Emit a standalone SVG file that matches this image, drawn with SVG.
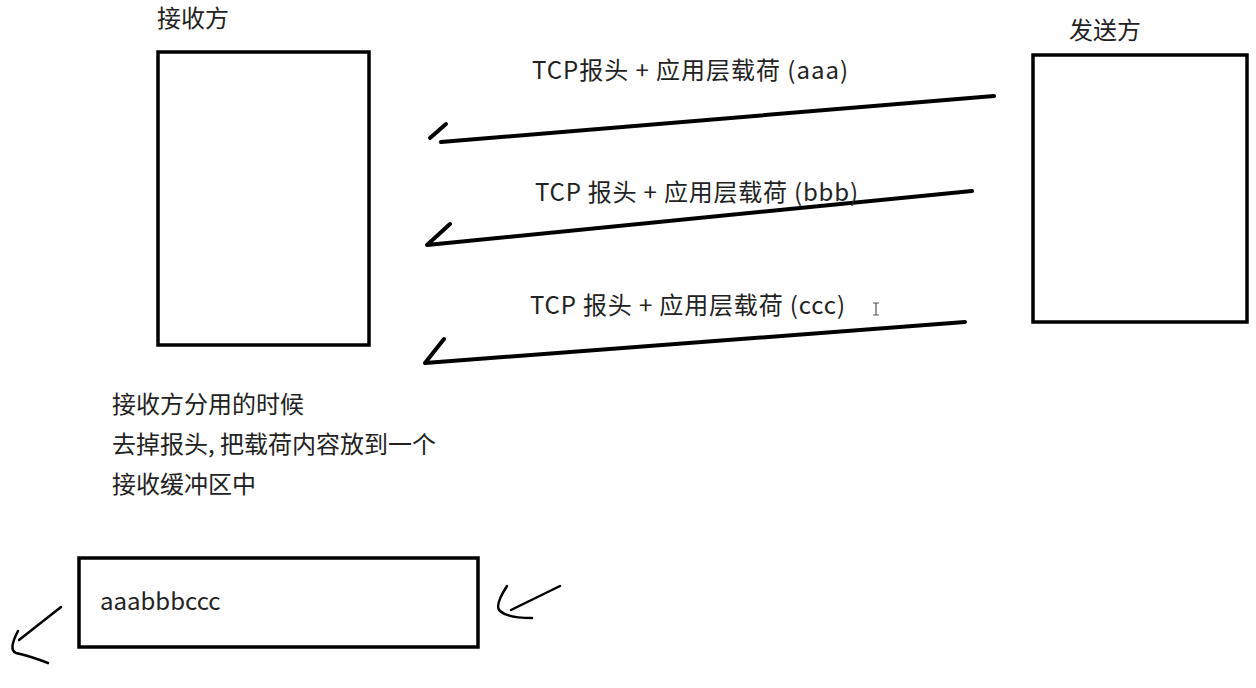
<svg xmlns="http://www.w3.org/2000/svg" width="1256" height="688" viewBox="0 0 1256 688">
<style>
.t{font-family:"Noto Sans CJK SC","Noto Sans",sans-serif;font-size:24px;fill:#222}
.box{fill:#fff;stroke:#000;stroke-width:3.5}
.ln{fill:none;stroke:#000;stroke-width:4;stroke-linecap:round;stroke-linejoin:round}
.hd{fill:none;stroke:#000;stroke-width:2.5;stroke-linecap:round;stroke-linejoin:round}
</style>
<rect width="1256" height="688" fill="#fff"/>
<g id="receiver">
<rect class="box" x="158" y="52" width="211" height="293"/>
<text class="t" x="157" y="27">接收方</text>
</g>
<g id="sender">
<rect class="box" x="1033" y="55" width="214" height="267"/>
<text class="t" x="1069" y="39">发送方</text>
</g>
<g id="buffer">
<rect class="box" x="79" y="558" width="399" height="89"/>
<text class="t" x="100" y="610">aaabbbccc</text>
</g>
<g id="note">
<text class="t" x="112" y="413">接收方分用的时候</text>
<text class="t" x="112" y="453">去掉报头, 把载荷内容放到一个</text>
<text class="t" x="112" y="493">接收缓冲区中</text>
</g>
<g id="connectors">
<path class="ln" d="M994,96 L441,142"/>
<path class="ln" d="M430,138 L446,124"/>
<path class="ln" d="M972,191 L427,245 L450,224"/>
<path class="ln" d="M965,322 L425,363 L444,339"/>
<path class="hd" d="M560,586 L511,610"/>
<path class="hd" d="M507,586 Q494,606 500,611 Q508,618 532,618"/>
<path class="hd" d="M61,607 L19,640"/>
<path class="hd" d="M18,631 Q8,650 16,653 Q30,656 48,663"/>
<path d="M873,303 h6 M876,303 v12 M873,315 h6" fill="none" stroke="#555" stroke-width="1.2"/>
</g>
<g id="labels">
<text class="t" x="532" y="79" textLength="316" lengthAdjust="spacing">TCP报头 + 应用层载荷 (aaa)</text>
<text class="t" x="535" y="201" textLength="323" lengthAdjust="spacing">TCP 报头 + 应用层载荷 (bbb)</text>
<text class="t" x="530" y="314" textLength="315" lengthAdjust="spacing">TCP 报头 + 应用层载荷 (ccc)</text>
</g>
</svg>
